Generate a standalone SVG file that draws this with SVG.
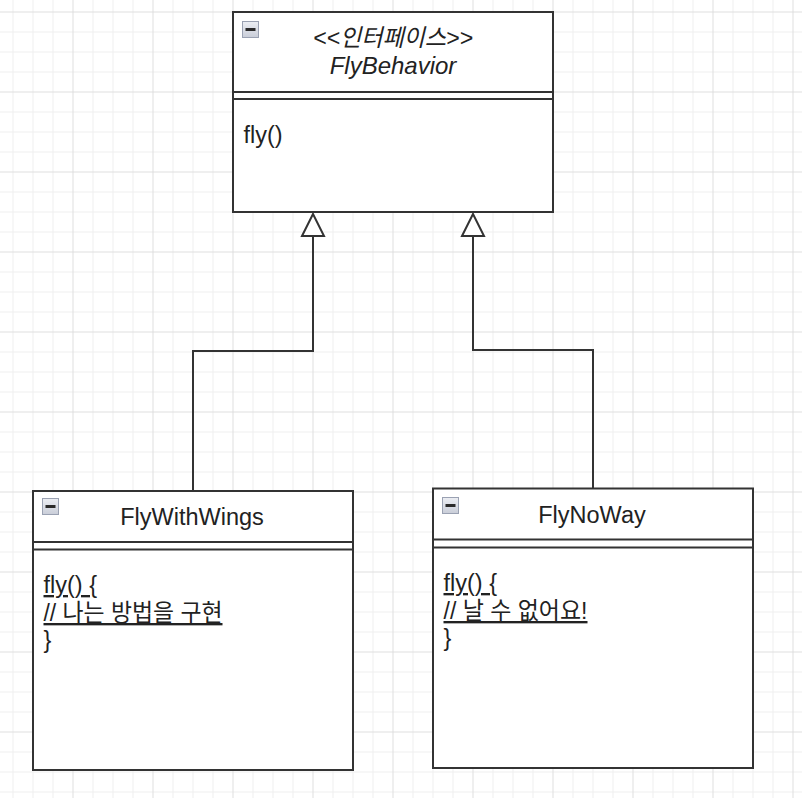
<svg xmlns="http://www.w3.org/2000/svg" width="802" height="798" viewBox="0 0 802 798">
  <defs>
    <pattern id="grid" x="72.5" y="11.5" width="80" height="80" patternUnits="userSpaceOnUse">
      <path d="M20.5,0V80M40.5,0V80M60.5,0V80M0,20.5H80M0,40.5H80M0,60.5H80" stroke="#efefef" stroke-width="1" fill="none"/>
      <path d="M0.5,0V80M0,0.5H80" stroke="#dedede" stroke-width="1" fill="none"/>
    </pattern>
    <linearGradient id="iconFill" x1="0" y1="0" x2="0" y2="1">
      <stop offset="0" stop-color="#eceef3"/>
      <stop offset="1" stop-color="#c9cdd8"/>
    </linearGradient>
    <marker id="inherit" viewBox="0 0 26 26" markerWidth="26" markerHeight="26" refX="23" refY="13" orient="auto" markerUnits="userSpaceOnUse" overflow="visible">
      <path d="M1,2 L23,13 L1,24 Z" fill="#ffffff" stroke="#333333" stroke-width="2" stroke-linejoin="miter"/>
    </marker>
    <g id="minus">
      <rect x="0.5" y="0.5" width="16" height="16" fill="url(#iconFill)" stroke="#9aa1b2" stroke-width="1"/>
      <rect x="3.5" y="7" width="10" height="3" fill="#2a2a2a"/>
    </g>
  </defs>
  <style>
    .box { fill: #ffffff; stroke: #333333; stroke-width: 2; }
    .sep { stroke: #333333; stroke-width: 2; fill: none; }
    .conn { stroke: #333333; stroke-width: 2; fill: none; }
    .t { font-family: "Liberation Sans", Arial, "Noto Sans CJK KR", sans-serif; font-size: 23.5px; fill: #222222; }
    .c { text-anchor: middle; }
    .i { font-style: italic; font-size: 24px; }
    .u { text-decoration: underline; }
  </style>
  <rect x="0" y="0" width="802" height="798" fill="#ffffff"/>
  <rect x="0" y="0" width="802" height="798" fill="url(#grid)"/>

  <g id="node-flybehavior">
    <rect class="box" x="233" y="12" width="320" height="200"/>
    <path class="sep" d="M233,92H553M233,99H553"/>
    <use href="#minus" x="242" y="21"/>
    <text class="t c i" x="393" y="46" textLength="160" lengthAdjust="spacingAndGlyphs">&lt;&lt;인터페이스&gt;&gt;</text>
    <text class="t c i" x="393" y="74">FlyBehavior</text>
    <text class="t" x="243.5" y="143">fly()</text>
  </g>

  <g id="node-flywithwings">
    <rect class="box" x="33" y="491" width="320" height="279"/>
    <path class="sep" d="M33,542H353M33,549.5H353"/>
    <use href="#minus" x="42" y="498"/>
    <text class="t c" x="192" y="525">FlyWithWings</text>
    <text class="t u" x="43.5" y="593">fly() {</text>
    <text class="t u" x="43.5" y="621" textLength="179" lengthAdjust="spacingAndGlyphs">// 나는 방법을 구현</text>
    <text class="t" x="43.5" y="648">}</text>
  </g>

  <g id="node-flynoway">
    <rect class="box" x="433" y="488.5" width="320" height="279.5"/>
    <path class="sep" d="M433,539.5H753M433,547.5H753"/>
    <use href="#minus" x="442" y="497"/>
    <text class="t c" x="592" y="523">FlyNoWay</text>
    <text class="t u" x="443.5" y="591">fly() {</text>
    <text class="t u" x="443.5" y="619" textLength="144" lengthAdjust="spacingAndGlyphs">// 날 수 없어요!</text>
    <text class="t" x="443.5" y="646">}</text>
  </g>

  <g id="connectors">
    <path class="conn" d="M193,491 V351 H313 V214" marker-end="url(#inherit)"/>
    <path class="conn" d="M593,488.5 V350 H473 V214" marker-end="url(#inherit)"/>
  </g>
</svg>
